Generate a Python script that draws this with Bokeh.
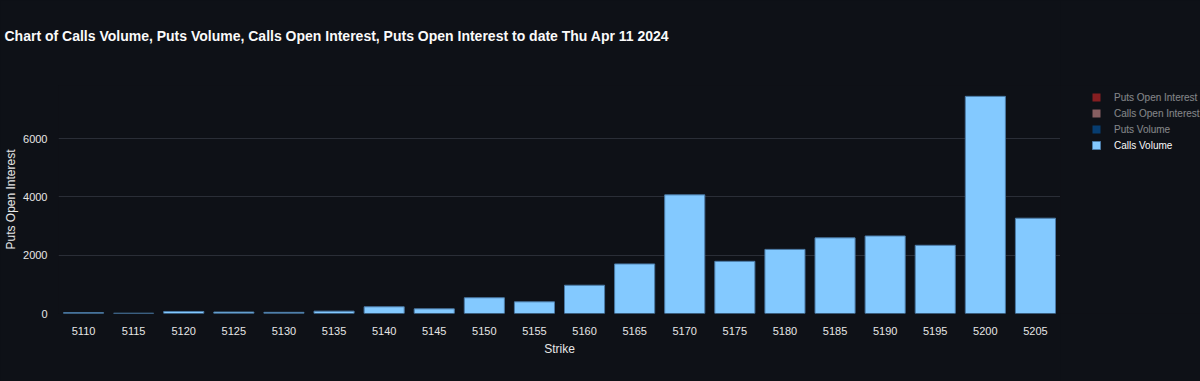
from bokeh.plotting import figure
from bokeh.layouts import row
from bokeh.models import Legend, LegendItem, FixedTicker, Range1d, Title
from bokeh.embed import file_html
from bokeh.resources import INLINE

strikes = ["5110", "5115", "5120", "5125", "5130", "5135", "5140", "5145", "5150", "5155",
           "5160", "5165", "5170", "5175", "5180", "5185", "5190", "5195", "5200", "5205"]
calls_volume = [30, 10, 70, 50, 40, 80, 230, 160, 540, 400,
                970, 1700, 4070, 1790, 2200, 2595, 2660, 2340, 7450, 3270]
y_ticks = [0, 2000, 4000, 6000]
series_names = ["Puts Open Interest", "Calls Open Interest", "Puts Volume", "Calls Volume"]
series_colors = ["#ff2b2b", "#ffabab", "#0068c9", "#83c9ff"]
series_shown = [False, False, False, True]

BG = "#0e1117"
FONT = "Liberation Sans"
BG_STYLE = {"background-color": BG}

p = figure(x_range=strikes, width=1060, height=381, output_backend="svg", toolbar_location=None,
           min_border_left=58, min_border_right=0, min_border_top=85, min_border_bottom=68,
           background_fill_color=BG, border_fill_color=BG, styles=BG_STYLE)
p.outline_line_color = None
p.title.visible = False
p.add_layout(Title(text=" ", text_font_size="22px", text_color=BG), "above")
p.add_layout(Title(text="Chart of Calls Volume, Puts Volume, Calls Open Interest, Puts Open Interest to date Thu Apr 11 2024",
                   text_color="#fafafa", text_font=FONT, text_font_size="14px", text_font_style="bold",
                   align="left", offset=-54), "above")

p.y_range = Range1d(0, max(calls_volume) * 1.05)
p.vbar(x=strikes, top=calls_volume, width=0.8, fill_color=series_colors[3], line_color="#4a7aa6", line_width=1)

p.xgrid.grid_line_color = None
p.ygrid.grid_line_color = "#2a2e37"
p.ygrid.ticker = FixedTicker(ticks=y_ticks)
p.yaxis.ticker = FixedTicker(ticks=y_ticks)

for ax in (p.xaxis[0], p.yaxis[0]):
    ax.axis_line_color = None
    ax.major_tick_line_color = None
    ax.minor_tick_line_color = None
    ax.major_label_text_color = "#e6e6e6"
    ax.major_label_text_font = FONT
    ax.major_label_text_font_size = "11px"
    ax.axis_label_text_color = "#e6e6e6"
    ax.axis_label_text_font = FONT
    ax.axis_label_text_font_size = "12px"
    ax.axis_label_text_font_style = "normal"

p.xaxis.axis_label = "Strike"
p.yaxis.axis_label = "Puts Open Interest"
p.xaxis.major_label_standoff = 7
p.xaxis.axis_label_standoff = 4
p.yaxis.major_label_standoff = 5
p.yaxis.axis_label_standoff = 2

# legend panel (separate figure to the right, same background)
lf = figure(width=140, height=381, output_backend="svg", toolbar_location=None,
            x_range=Range1d(0, 1), y_range=Range1d(0, 1), x_axis_type=None, y_axis_type=None,
            min_border=0, background_fill_color=BG, border_fill_color=BG, styles=BG_STYLE)
lf.outline_line_color = None
lf.grid.visible = False

items = []
for name, col, shown in zip(series_names, series_colors, series_shown):
    r = lf.vbar(x=[float("nan")], top=[float("nan")], width=0.8, fill_color=col,
                line_color="#4a7aa6" if shown else None, visible=shown)
    items.append(LegendItem(label=name, renderers=[r]))

legend = Legend(items=items, location=(31, 162), background_fill_alpha=0, border_line_color=None,
                label_text_color="#fafafa", label_text_font=FONT, label_text_font_size="10px",
                glyph_width=10, glyph_height=10, label_height=12, spacing=4,
                margin=0, padding=0, label_standoff=13, click_policy="hide",
                inactive_fill_color=BG, inactive_fill_alpha=0.5)
lf.add_layout(legend, "center")

layout = row(p, lf, spacing=0, styles=BG_STYLE)
open("out.html", "w").write(file_html(layout, INLINE))
